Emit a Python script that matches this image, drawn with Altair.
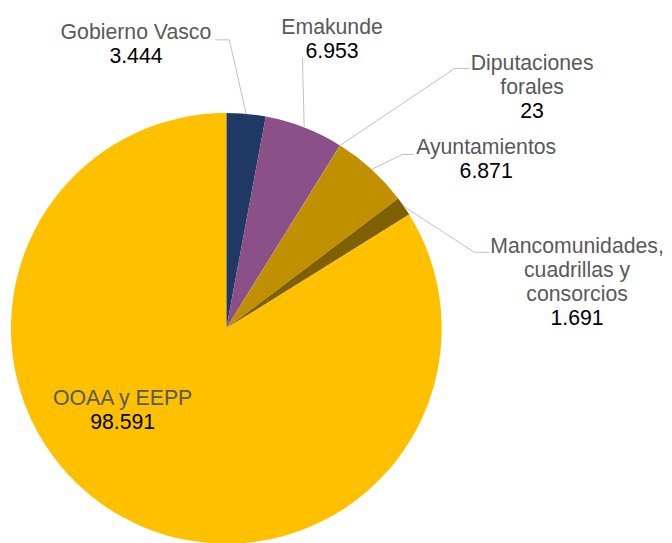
import altair as alt
import pandas as pd
import math

# ---- data ----
categories = ["Gobierno Vasco", "Emakunde", "Diputaciones forales", "Ayuntamientos",
              "Mancomunidades, cuadrillas y consorcios", "OOAA y EEPP"]
values = [3444, 6953, 23, 6871, 1691, 98591]
value_labels = ["3.444", "6.953", "23", "6.871", "1.691", "98.591"]
name_lines = [["Gobierno Vasco"], ["Emakunde"], ["Diputaciones", "forales"], ["Ayuntamientos"],
              ["Mancomunidades,", "cuadrillas y", "consorcios"], ["OOAA y EEPP"]]
colors = ["#203864", "#8A5087", "#A5A5A5", "#C09000", "#7F6000", "#FFC000"]

# ---- layout (chart pixel coords) ----
CX, CY, R = 221, 321, 218
label_anchor = [(129.5, 28), (328, 23), (530.5, 59), (484, 145), (576, 245), (116, 399)]
LINE_H = 24.3
# leader line elbows / ends (None = no leader)
leader_pts = [[(224, 29), (210, 29)], [(298, 47)], [(452, 58), (467, 58)],
              [(399, 145), (410, 145)], [(472, 244), (487, 244)], None]

total = sum(values)
df = pd.DataFrame({"cat": categories, "val": values, "idx": list(range(len(values)))})

pie = alt.Chart(df).mark_arc(radius=R).encode(
    theta=alt.Theta("val:Q", stack=True),
    order=alt.Order("idx:Q"),
    color=alt.Color("cat:N", scale=alt.Scale(domain=categories, range=colors), legend=None),
    x=alt.value(CX),
    y=alt.value(CY),
)

# leader lines start at mid-angle of slice on the rim
rows = []
cum = 0
for i, v in enumerate(values):
    mid = (cum + v / 2) / total * 2 * math.pi
    cum += v
    if leader_pts[i] is None:
        continue
    pts = [(CX + R * math.sin(mid), CY - R * math.cos(mid))] + leader_pts[i]
    for j, (px, py) in enumerate(pts):
        rows.append({"g": i, "k": j, "x": px, "y": py})
lines = alt.Chart(pd.DataFrame(rows)).mark_line(color="#BFBFBF", strokeWidth=1).encode(
    x=alt.X("x:Q", scale=None), y=alt.Y("y:Q", scale=None),
    detail="g:N", order="k:Q",
)

trows = []
for i in range(len(categories)):
    ax, ay = label_anchor[i]
    ls = name_lines[i]
    for j, t in enumerate(ls):
        trows.append({"x": ax, "y": ay + j * LINE_H, "t": t, "c": "#595959"})
    trows.append({"x": ax, "y": ay + len(ls) * LINE_H, "t": value_labels[i], "c": "#000000"})
texts = alt.Chart(pd.DataFrame(trows)).mark_text(
    font="Liberation Sans", fontSize=21.5, align="center", baseline="alphabetic"
).encode(
    x=alt.X("x:Q", scale=None), y=alt.Y("y:Q", scale=None),
    text="t:N", color=alt.Color("c:N", scale=None),
)

chart = alt.layer(pie, lines, texts).properties(
    width=664, height=535, padding=0, autosize=alt.AutoSizeParams(type="none")
).configure_view(stroke=None)

chart.save("out.html", embed_options={"renderer": "svg", "actions": False})
